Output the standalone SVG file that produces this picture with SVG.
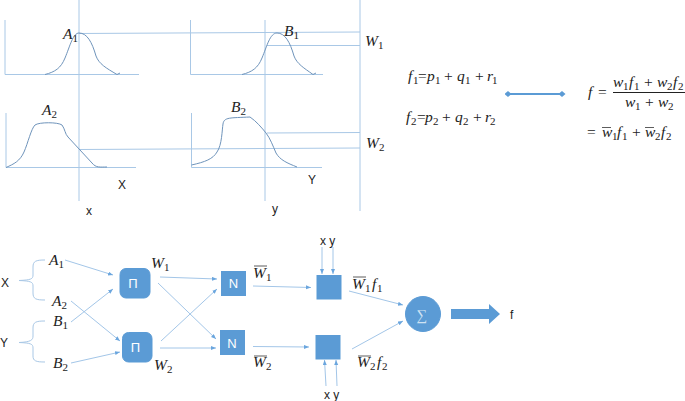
<svg xmlns="http://www.w3.org/2000/svg" width="685" height="401" viewBox="0 0 685 401">
<style>
.ax{fill:none;stroke:#a9c8e6;stroke-width:1}
.cv{fill:none;stroke:#6f94bb;stroke-width:1}
.cn{fill:none;stroke:#a3c6e8;stroke-width:1;marker-end:url(#ah)}
.br{fill:none;stroke:#a9c8e6;stroke-width:1}
.bx{fill:#5b9bd5;stroke:#5b9bd5}
.m{font-family:"Liberation Serif","DejaVu Serif",serif;font-style:italic;font-size:15.500px;fill:#222}
.m tspan.s{font-size:11px;font-style:normal}
.m tspan.n{font-style:normal}
.t{font-family:"Liberation Sans",Arial,sans-serif;font-size:12px;fill:#222}
.w{font-family:"Liberation Sans",Arial,sans-serif;font-size:13px;fill:#fff;text-anchor:middle}
.o{fill:none;stroke:#333;stroke-width:.8}
</style>
<defs>
<marker id="ah" markerWidth="6" markerHeight="6" refX="5" refY="2" orient="auto" markerUnits="userSpaceOnUse"><path d="M0 0L5 2L0 4Z" fill="#6ba6de"/></marker>
<marker id="dm" markerWidth="7" markerHeight="7" refX="3.500" refY="3.500" orient="auto" markerUnits="userSpaceOnUse"><path d="M0 3.500L3.500 0.500L7 3.500L3.500 6.500Z" fill="#5b9bd5"/></marker>
</defs>

<g id="plots">
<path class="ax" d="M5 20V74.500H139M190.500 20V74.500H323M6 113V167.500H136M191.500 113V167.500H322"/>
<path class="ax" d="M79 0V201M265 20V201M360 0V211M79 33.500L360 32M267 45.500H360M80 149.500L360 148M267 133L360 132.500"/>
<path class="cv" d="M45 74.500C55 72 61 68 65 58C70 46 73 33 79 33C87 33 92 42 96 56C99 64 106 68 117 74.500L120 73"/>
<path class="cv" d="M242 74.500C252 72 258 68 262 58C267 46 270 33 277 33C285 33 290 42 294 56C297 64 304 68 313 74.500L316 73"/>
<path class="cv" d="M6 167.500C14 164 20 161 24 152C28 143 31 129 35 125C39 122 58 122 62 125C65 129 65 134 68 137L92 163C96 168 100 167 107 167"/>
<path class="cv" d="M191.500 165C205 162 213 159 217 152C222 145 222 130 223 124C224 117 230 118 250 117C256 121 262 128 266 133C270 138 273 146 276 153C280 160 287 163 297 167"/>
</g>
<g id="plot-labels">
<text class="m" x="63" y="39">A<tspan class="s" dy="3">1</tspan></text>
<text class="m" x="284" y="36">B<tspan class="s" dy="3">1</tspan></text>
<text class="m" x="42" y="115">A<tspan class="s" dy="3">2</tspan></text>
<text class="m" x="231" y="112">B<tspan class="s" dy="3">2</tspan></text>
<text class="m" x="365" y="46">W<tspan class="s" dy="3">1</tspan></text>
<text class="m" x="366" y="148">W<tspan class="s" dy="3">2</tspan></text>
<text class="t" x="118" y="189">X</text>
<text class="t" x="308" y="184">Y</text>
<text class="t" x="86" y="215">x</text>
<text class="t" x="272" y="213">y</text>
</g>

<g id="equations">
<text class="m" x="408" y="81">f<tspan class="s" x="413" dy="3">1</tspan><tspan class="n" x="418" dy="-3">=</tspan><tspan x="427">p</tspan><tspan class="s" x="435" dy="3">1</tspan><tspan class="n" x="444" dy="-3">+</tspan><tspan x="457">q</tspan><tspan class="s" x="465" dy="3">1</tspan><tspan class="n" x="475" dy="-3">+</tspan><tspan x="487">r</tspan><tspan class="s" x="492" dy="3">1</tspan></text>
<text class="m" x="406" y="122">f<tspan class="s" x="411" dy="3">2</tspan><tspan class="n" x="417" dy="-3">=</tspan><tspan x="425">p</tspan><tspan class="s" x="433" dy="3">2</tspan><tspan class="n" x="442" dy="-3">+</tspan><tspan x="455">q</tspan><tspan class="s" x="463" dy="3">2</tspan><tspan class="n" x="473" dy="-3">+</tspan><tspan x="485">r</tspan><tspan class="s" x="490" dy="3">2</tspan></text>
<path d="M508 94H562" fill="none" stroke="#5b9bd5" stroke-width="2" marker-start="url(#dm)" marker-end="url(#dm)"/>
<text class="m" x="588" y="97">f<tspan class="n" x="598">=</tspan></text>
<text class="m" x="613" y="87">w<tspan class="s" x="623" dy="3">1</tspan><tspan x="629" dy="-3">f</tspan><tspan class="s" x="634" dy="3">1</tspan><tspan class="n" x="644" dy="-3">+</tspan><tspan x="657">w</tspan><tspan class="s" x="667" dy="3">2</tspan><tspan x="673" dy="-3">f</tspan><tspan class="s" x="678" dy="3">2</tspan></text>
<path d="M613 92.500H685" fill="none" stroke="#222" stroke-width="1"/>
<text class="m" x="625" y="107">w<tspan class="s" x="635" dy="3">1</tspan><tspan class="n" x="645" dy="-3">+</tspan><tspan x="658">w</tspan><tspan class="s" x="668" dy="3">2</tspan></text>
<text class="m" x="587" y="137"><tspan class="n">=</tspan><tspan x="602">w</tspan><tspan class="s" x="612" dy="3">1</tspan><tspan x="617" dy="-3">f</tspan><tspan class="s" x="622" dy="3">1</tspan><tspan class="n" x="632" dy="-3">+</tspan><tspan x="645">w</tspan><tspan class="s" x="655" dy="3">2</tspan><tspan x="661" dy="-3">f</tspan><tspan class="s" x="666" dy="3">2</tspan></text>
<path class="o" d="M602 127.500H611M645 127.500H654"/>
</g>

<g id="connectors">
<path class="br" d="M45 260C36 260 33 261 33 267V275C33 279 31 280 19 280.500C31 281 33 282 33 286V293C33 299 36 300 45 300"/>
<path class="br" d="M45 321C36 321 33 322 33 328V336C33 340 31 342 19 342.500C31 343 33 344 33 348V356C33 361 36 362 45 362"/>
<path class="cn" d="M65 260L113 275"/>
<path class="cn" d="M71 301L120 341"/>
<path class="cn" d="M71 322L113 289"/>
<path class="cn" d="M71 363L120 352"/>
<path class="cn" d="M160 277L217 279"/>
<path class="cn" d="M158 283L216 339"/>
<path class="cn" d="M161 341L217 289"/>
<path class="cn" d="M160 348L216 348"/>
<path class="cn" d="M253 286L311 287.500"/>
<path class="cn" d="M253 346.500L309 347"/>
<path class="cn" d="M322 247V274"/>
<path class="cn" d="M333 247V274"/>
<path class="cn" d="M326 386L324.500 360"/>
<path class="cn" d="M337 386L336 360"/>
<path class="cn" d="M349 291L403 305"/>
<path class="cn" d="M352 349L403 321"/>
</g>

<g id="pi1"><rect class="bx" x="120" y="268.500" width="30" height="29.500" rx="6"/><text class="w" x="133" y="288">Π</text></g>
<g id="pi2"><rect class="bx" x="122.500" y="332.500" width="29.500" height="29.500" rx="6"/><text class="w" x="135.500" y="352">Π</text></g>
<g id="n1"><rect class="bx" x="221.500" y="271.500" width="24" height="24"/><text class="w" x="233.500" y="288">N</text></g>
<g id="n2"><rect class="bx" x="220.500" y="330.500" width="24" height="24"/><text class="w" x="232" y="348">N</text></g>
<g id="prod1"><rect class="bx" x="317" y="275.500" width="24" height="23.500"/></g>
<g id="prod2"><rect class="bx" x="316" y="335.500" width="24" height="23.500"/></g>
<g id="sum"><circle class="bx" cx="423" cy="314" r="17.500"/><text x="421.500" y="320" font-family="'Liberation Serif',serif" font-size="15" fill="#cfe2f3" text-anchor="middle">∑</text></g>
<g id="output"><path d="M451 309H489V304L500 314L489 324V319H451Z" fill="#5b9bd5"/><text class="t" x="510" y="319">f</text></g>

<g id="net-labels">
<text class="t" x="1" y="287">X</text>
<text class="t" x="0" y="347">Y</text>
<text class="m" x="49" y="265">A<tspan class="s" dy="3">1</tspan></text>
<text class="m" x="52" y="306">A<tspan class="s" dy="3">2</tspan></text>
<text class="m" x="53" y="326">B<tspan class="s" dy="3">1</tspan></text>
<text class="m" x="53" y="368">B<tspan class="s" dy="3">2</tspan></text>
<text class="m" x="151" y="268">W<tspan class="s" dy="3">1</tspan></text>
<text class="m" x="154" y="370">W<tspan class="s" dy="3">2</tspan></text>
<text class="m" x="253" y="278">W<tspan class="s" dy="3">1</tspan></text>
<path class="o" d="M254 266H267M254 356H267M353 277H366M358 356H371"/>
<text class="m" x="253" y="367">W<tspan class="s" dy="3">2</tspan></text>
<text class="m" x="352" y="289">W<tspan class="s" x="365" dy="3">1</tspan><tspan x="372" dy="-3">f</tspan><tspan class="s" x="377" dy="3">1</tspan></text>
<text class="m" x="357" y="367">W<tspan class="s" x="370" dy="3">2</tspan><tspan x="377" dy="-3">f</tspan><tspan class="s" x="382" dy="3">2</tspan></text>
<text class="t" x="320" y="245">x y</text>
<text class="t" x="324" y="399">x y</text>
</g>
</svg>
